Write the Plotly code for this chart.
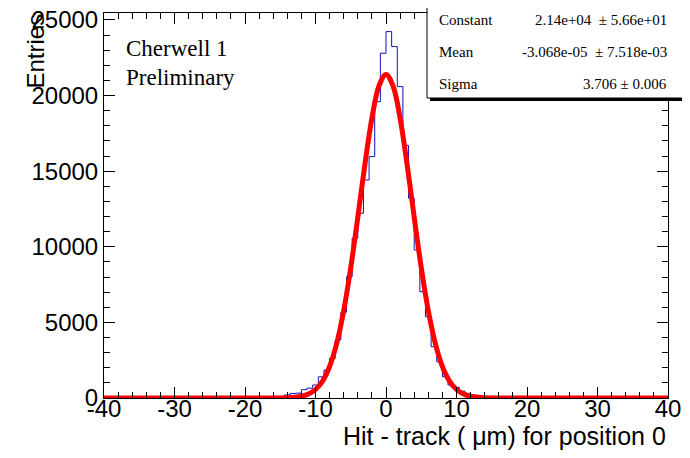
import numpy as np
import plotly.graph_objects as go

# Histogram: residuals, 0.8 um bins; only the populated region is listed,
# everything else between -40 and 40 is empty
bin_edges = np.round(np.linspace(-16, 16, 41), 1)
counts = [30, 80, 200, 300, 320, 550, 650, 860, 1400, 1850,
          2620, 3840, 5670, 8020, 10560, 12220, 14420, 15960, 19600, 22800,
          24230, 23240, 20590, 16700, 13210, 9790, 7030, 5380, 3390, 2400,
          1410, 860, 700, 450, 300, 200, 100, 60, 20, 10]

# Gaussian fit curve
fit_x = [-40, -20, -16, -15, -14, -13, -12, -11, -10, -9, -8, -7, -6, -5, -4, -3, -2, -1,
         0, 1, 2, 3, 4, 5, 6, 7, 8, 9, 10, 11, 12, 13, 14, 15, 16, 20, 40]
fit_y = [0, 0, 2, 6, 17, 46, 113, 262, 562, 1121, 2082, 3595, 5771, 8614, 11950, 15421, 18500, 20636,
         21400, 20636, 18500, 15421, 11950, 8614, 5771, 3595, 2082, 1121, 562, 262, 113, 46, 17, 6, 2, 0, 0]

x_tickvals = [-40, -30, -20, -10, 0, 10, 20, 30, 40]
x_ticktext = ["-40", "-30", "-20", "-10", "0", "10", "20", "30", "40"]

stat_names = ["Constant", "Mean", "Sigma"]
stat_values = ["2.14e+04\u00a0\u00a0± 5.66e+01", "-3.068e-05\u00a0\u00a0± 7.518e-03", "3.706 ± 0.006"]

# the page body adds an 8px margin, so the figure is made 8px smaller on each side
PAD = 8
W, H = 690 - 2 * PAD, 458 - 2 * PAD
# frame geometry in page pixels
L, R, T, B = 104, 668, 13, 398
def px(x):
    return (x - L) / (R - L)
def py(y):
    return (B - y) / (B - T)

hx = [-40] + list(bin_edges) + [40]
hy = [0] + counts + [0, 0]

fig = go.Figure()
fig.add_trace(go.Scatter(x=hx, y=hy, mode="lines", line=dict(color="#1010c0", width=1, shape="hv"),
                         hoverinfo="skip"))
fig.add_trace(go.Scatter(x=fit_x, y=fit_y, mode="lines", line=dict(color="#ff0000", width=5, shape="spline"),
                         hoverinfo="skip"))

axis_font = dict(family="Liberation Sans, Arial, sans-serif", size=24, color="black")
fig.update_xaxes(range=[-40, 40], tickvals=x_tickvals, ticktext=x_ticktext, ticks="inside", ticklen=11,
                 tickcolor="black", showline=True, linecolor="black", linewidth=1, mirror="ticks",
                 showgrid=False, zeroline=False, tickfont=axis_font, ticklabelstandoff=-11,
                 ticklabeloverflow="allow",
                 minor=dict(dtick=2, tick0=0, ticks="inside", ticklen=6, tickcolor="black", showgrid=False))
fig.update_yaxes(range=[0, 25460], dtick=5000, tick0=0, tickformat="d", ticks="inside", ticklen=11,
                 tickcolor="black", showline=True, linecolor="black", linewidth=1, mirror="ticks",
                 showgrid=False, zeroline=False, tickfont=axis_font, ticklabeloverflow="allow",
                 minor=dict(dtick=1000, ticks="inside", ticklen=6, tickcolor="black", showgrid=False))

serif = dict(family="Liberation Serif, Times New Roman, serif", color="black")
ann = [
    dict(text="Hit - track ( \u03bcm) for position 0", x=1, y=py(436), xanchor="right", yanchor="middle",
         font=dict(axis_font, size=25)),
    dict(text="Entries", x=px(35), y=py(12), xanchor="center", yanchor="top", textangle=-90, font=axis_font),
    dict(text="Cherwell 1", x=px(124), y=py(48), xanchor="left", yanchor="middle", font=dict(size=23, **serif)),
    dict(text="Preliminary", x=px(124), y=py(77), xanchor="left", yanchor="middle", font=dict(size=23, **serif)),
]
for i, (name, val) in enumerate(zip(stat_names, stat_values)):
    yy = py(20 + 32 * i)
    ann.append(dict(text=name, x=px(437), y=yy, xanchor="left", yanchor="middle", font=dict(size=15, **serif)))
    ann.append(dict(text=val, x=px(669), y=yy, xanchor="right", yanchor="middle", font=dict(size=15, **serif)))
for a in ann:
    a.update(xref="paper", yref="paper", showarrow=False)

shapes = [
    # drop shadow of the stats box
    dict(type="rect", xref="paper", yref="paper", x0=px(430), x1=px(687), y0=py(101), y1=py(8),
         fillcolor="black", line=dict(width=0), layer="above"),
    dict(type="rect", xref="paper", yref="paper", x0=px(427), x1=px(684), y0=py(98), y1=py(5),
         fillcolor="white", line=dict(color="black", width=1), layer="above"),
]

fig.update_layout(
    width=W, height=H,
    margin=dict(l=L - PAD, r=690 - PAD - R, t=T - PAD, b=458 - PAD - B, autoexpand=False),
    paper_bgcolor="white", plot_bgcolor="white",
    showlegend=False,
    annotations=ann, shapes=shapes,
)

fig.write_html("out.html")
